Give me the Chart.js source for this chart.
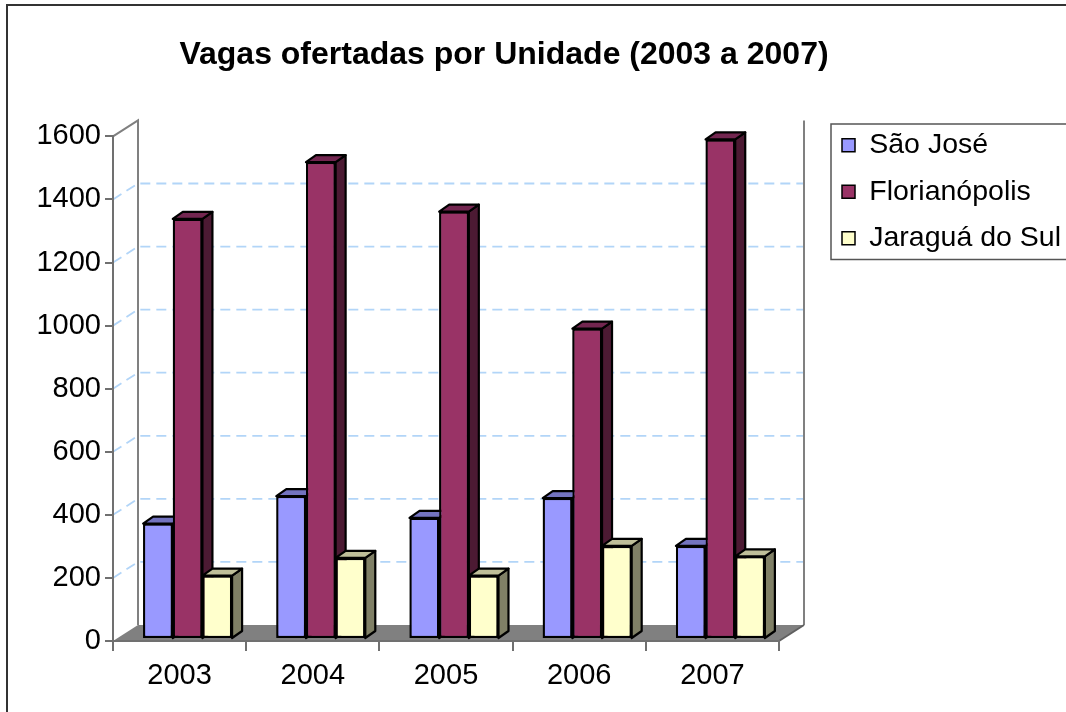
<!DOCTYPE html>
<html><head><meta charset="utf-8">
<script src="https://cdn.jsdelivr.net/npm/chart.js@4/dist/chart.umd.min.js"></script>
<style>html,body{margin:0;padding:0;background:#fff;overflow:hidden}#wrap{width:1066px;height:712px;position:relative}</style>
</head><body><div id="wrap"><canvas id="c" width="1066" height="712"></canvas></div>
<script>
// ---- data ----
const categories = ['2003', '2004', '2005', '2006', '2007'];
const seriesNames = ['São José', 'Florianópolis', 'Jaraguá do Sul'];
const saoJose = [366, 453, 384, 447, 295];
const florianopolis = [1332, 1512, 1355, 984, 1584];
const jaraguaDoSul = [201, 257, 201, 295, 262];
const yMin = 0, yMax = 1600, yStep = 200;
const titleText = 'Vagas ofertadas por Unidade (2003 a 2007)';

// ---- styling ----
const faceColors = [
  {front: '#9999FF', top: '#7373C0', side: '#4D4D80'},
  {front: '#993366', top: '#732650', side: '#4C1A33'},
  {front: '#FFFFCC', top: '#BFBF99', side: '#808066'}
];
const FRONT_LEFT = 113, FRONT_RIGHT = 779, FRONT_BOTTOM = 641;
const WALL_DX = 25, WALL_DY = 16;
const BAR_DX = 10, BAR_DY = 7;
const SHIFT_X = 8, SHIFT_Y = -2;
const AXIS_COLOR = '#707070';

Chart.defaults.font.family = "'Liberation Sans', Arial, sans-serif";
Chart.defaults.color = '#000';

function poly(ctx, pts, fill) {
  ctx.beginPath();
  ctx.moveTo(pts[0][0], pts[0][1]);
  for (let k = 1; k < pts.length; k++) ctx.lineTo(pts[k][0], pts[k][1]);
  ctx.closePath();
  ctx.fillStyle = fill; ctx.fill();
  ctx.stroke();
}

const threeD = {
  id: 'threeD',
  afterLayout(chart) {
    const t = chart.titleBlock;
    if (t) { const sh = 504 - (t.left + t.right) / 2; t.left += sh; t.right += sh; }
    const lg = chart.legend;
    if (lg) { const w = lg.width, h = lg.height; lg.left = 824; lg.right = 824 + w; lg.top = 113; lg.bottom = 113 + h; }
  },
  beforeDraw(chart) {
    const {ctx, chartArea: a, scales: {y}} = chart;
    ctx.save();
    ctx.fillStyle = '#fff'; ctx.fillRect(0, 0, chart.width, chart.height);
    const yTop = y.getPixelForValue(y.max), yBot = y.getPixelForValue(y.min);
    const L = a.left, R = a.right;
    // floor
    ctx.fillStyle = '#808080';
    ctx.beginPath(); ctx.moveTo(L, yBot); ctx.lineTo(L + WALL_DX, yBot - WALL_DY);
    ctx.lineTo(R + WALL_DX, yBot - WALL_DY); ctx.lineTo(R, yBot); ctx.closePath(); ctx.fill();
    // gridlines on walls
    ctx.strokeStyle = '#B2D5F8'; ctx.lineWidth = 1.8; ctx.setLineDash([10, 6]);
    y.ticks.forEach(t => {
      if (t.value === y.min || t.value === y.max) return;
      const py = y.getPixelForValue(t.value);
      ctx.beginPath(); ctx.moveTo(L, py); ctx.lineTo(L + WALL_DX, py - WALL_DY);
      ctx.lineTo(R + WALL_DX, py - WALL_DY); ctx.stroke();
    });
    ctx.setLineDash([]);
    // wall edges
    ctx.strokeStyle = '#808080'; ctx.lineWidth = 2;
    ctx.beginPath();
    ctx.moveTo(L, yTop); ctx.lineTo(L + WALL_DX, yTop - WALL_DY); ctx.lineTo(L + WALL_DX, yBot - WALL_DY);
    ctx.moveTo(R + WALL_DX, yTop - WALL_DY); ctx.lineTo(R + WALL_DX, yBot - WALL_DY);
    ctx.stroke();
    ctx.strokeStyle = '#606060';
    ctx.beginPath(); ctx.moveTo(R, yBot); ctx.lineTo(R + WALL_DX, yBot - WALL_DY); ctx.stroke();
    ctx.restore();
  },
  beforeDatasetsDraw(chart) {
    chart.ctx.save();
    chart.ctx.translate(SHIFT_X, SHIFT_Y);
  },
  afterDatasetsDraw(chart) {
    const ctx = chart.ctx;
    const metas = chart.getSortedVisibleDatasetMetas();
    for (let i = 0; i < categories.length; i++) {
      metas.forEach(m => {
        const el = m.data[i];
        const {x, y, base, width} = el.getProps(['x', 'y', 'base', 'width'], true);
        const l = x - width / 2, r = x + width / 2;
        const c = faceColors[m.index];
        ctx.save();
        ctx.lineWidth = 2.2; ctx.strokeStyle = '#000'; ctx.lineJoin = 'round';
        poly(ctx, [[r, y], [r + BAR_DX, y - BAR_DY], [r + BAR_DX, base - BAR_DY], [r, base]], c.side);
        poly(ctx, [[l, y], [l + BAR_DX, y - BAR_DY], [r + BAR_DX, y - BAR_DY], [r, y]], c.top);
        ctx.restore();
        el.draw(ctx);
      });
    }
    ctx.restore();
  },
  afterDraw(chart) {
    const ctx = chart.ctx;
    ctx.save();
    // legend frame
    const hb = chart.legend.legendHitBoxes;
    if (hb && hb.length) {
      const f = hb[0], lst = hb[hb.length - 1];
      ctx.strokeStyle = '#555'; ctx.lineWidth = 1.5;
      ctx.strokeRect(f.left - 11, f.top - 7, 300, lst.top + lst.height + 7 - (f.top - 7));
    }
    // outer frame (top and left edges visible)
    ctx.strokeStyle = '#333'; ctx.lineWidth = 2;
    ctx.beginPath(); ctx.moveTo(7, chart.height + 2); ctx.lineTo(7, 5); ctx.lineTo(chart.width + 2, 5); ctx.stroke();
    ctx.restore();
  }
};

const series = [saoJose, florianopolis, jaraguaDoSul];
const datasets = series.map((vals, k) => ({
  label: seriesNames[k],
  data: vals,
  backgroundColor: faceColors[k].front,
  borderColor: '#000',
  borderWidth: 2.2,
  borderSkipped: false,
  categoryPercentage: 0.668,
  barPercentage: 1.0,
  clip: false
}));

new Chart(document.getElementById('c'), {
  type: 'bar',
  data: {labels: categories, datasets},
  options: {
    responsive: false,
    animation: false,
    layout: {padding: 0},
    plugins: {
      title: {
        display: true, text: titleText, color: '#000',
        font: {size: 32, weight: 'bold'},
        padding: {top: 36, bottom: 62}
      },
      legend: {
        position: 'right', align: 'start', maxWidth: 320,
        labels: {
          font: {size: 28.5}, color: '#000', boxWidth: 13, boxHeight: 13, padding: 18,
          generateLabels(chart) {
            const items = Chart.defaults.plugins.legend.labels.generateLabels(chart);
            items.forEach(it => { it.lineWidth = 1.5; it.strokeStyle = '#000'; });
            return items;
          }
        }
      },
      tooltip: {enabled: false}
    },
    scales: {
      x: {
        offset: true,
        grid: {offset: true, drawOnChartArea: false, drawTicks: true, tickLength: 10, color: AXIS_COLOR, lineWidth: 2},
        border: {color: AXIS_COLOR, width: 2},
        ticks: {font: {size: 29}, color: '#000', padding: 8},
        afterFit(scale) { scale.height = scale.chart.height - FRONT_BOTTOM; }
      },
      y: {
        min: yMin, max: yMax,
        grid: {drawOnChartArea: false, drawTicks: true, tickLength: 8, color: AXIS_COLOR, lineWidth: 2},
        border: {color: AXIS_COLOR, width: 2},
        ticks: {stepSize: yStep, font: {size: 29}, color: '#000', padding: 4, callback: v => String(v)},
        afterFit(scale) { scale.width = FRONT_LEFT; }
      },
      y2: {
        type: 'linear', position: 'right', display: true,
        grid: {display: false}, border: {display: false}, ticks: {display: false},
        afterFit(scale) { const ch = scale.chart; scale.width = Math.max(0, ch.width - ch.legend.width - FRONT_RIGHT); }
      }
    }
  },
  plugins: [threeD]
});
</script>
</body></html>
